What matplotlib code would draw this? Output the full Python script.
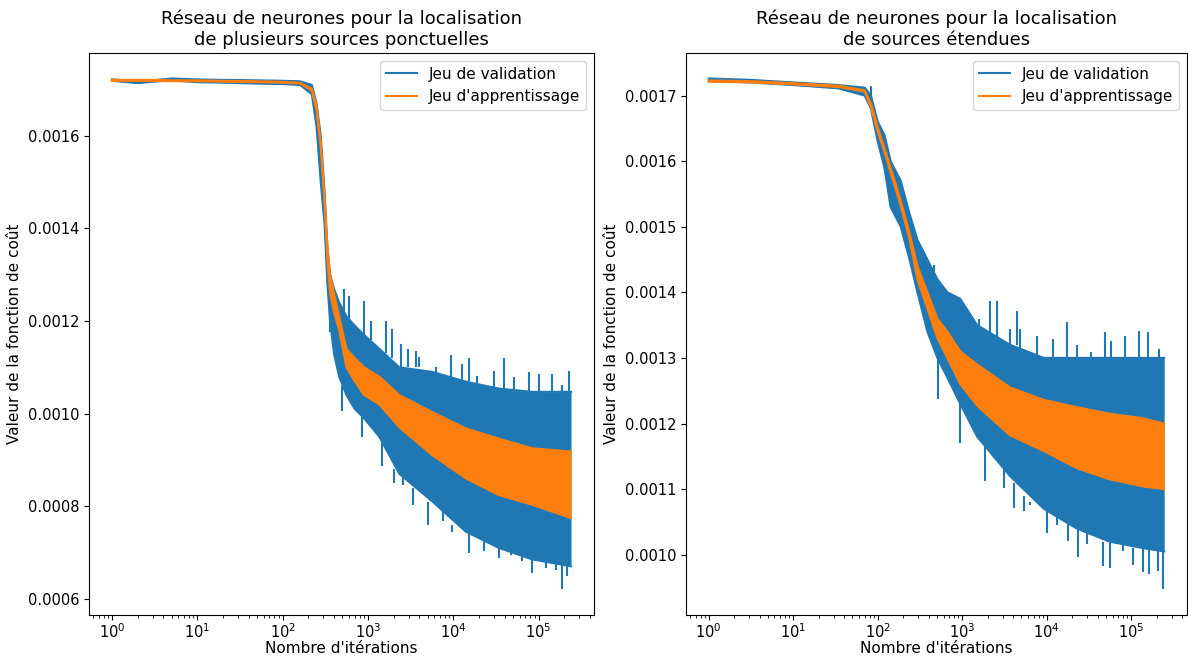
import numpy as np
import matplotlib
matplotlib.use("Agg")
import matplotlib.pyplot as plt

# ---- left panel: plusieurs sources ponctuelles ----
it_l = [1, 2, 3, 5, 10, 20, 50, 100, 160, 220, 250, 280, 310, 335, 360, 400,
        460, 560, 700, 900, 1360, 2330, 5700, 14000, 34000, 84000, 240000]
train_lo_l = [0.001719, 0.001719, 0.001719, 0.001718, 0.001718, 0.001717, 0.001716,
              0.001715, 0.001713, 0.001698, 0.001655, 0.001575, 0.001455, 0.00133,
              0.00126, 0.00122, 0.00118, 0.0011, 0.00107, 0.00104, 0.00102, 0.00097,
              0.00091, 0.00086, 0.000824, 0.000803, 0.000774]
train_hi_l = [0.001721, 0.001721, 0.001721, 0.00172, 0.00172, 0.001719, 0.001718,
              0.001717, 0.001715, 0.001702, 0.001665, 0.001585, 0.001465, 0.00136,
              0.0013, 0.00126, 0.00121, 0.00114, 0.00112, 0.0011, 0.00108, 0.00104,
              0.001003, 0.000968, 0.000946, 0.000925, 0.000918]
val_lo_l = [0.001719, 0.001714, 0.001717, 0.00172, 0.001716, 0.001715, 0.001713,
            0.001712, 0.00171, 0.00169, 0.00162, 0.0015, 0.00141, 0.00128, 0.0012,
            0.00113, 0.00108, 0.00104, 0.00101, 0.00099, 0.00095, 0.00087,
            0.00081, 0.000745, 0.00071, 0.000685, 0.00067]
val_hi_l = [0.001722, 0.001718, 0.00172, 0.001724, 0.001722, 0.001721, 0.00172,
            0.001719, 0.001718, 0.00171, 0.00167, 0.0016, 0.00148, 0.00136, 0.0013,
            0.00127, 0.00124, 0.00121, 0.00119, 0.00117, 0.00114, 0.0011,
            0.00109, 0.001069, 0.001054, 0.001047, 0.001047]
# upward spikes of the validation curve: iteration, base, tip
up_it_l = [530, 608, 910, 1090, 1630, 1940, 2440, 2920, 3650, 4000, 6260, 9380, 12800,
           15300, 19200, 30100, 39300, 51500, 77000, 101000, 144000, 189000, 230000]
up_lo_l = [0.00122, 0.0012, 0.00117, 0.00116, 0.00113, 0.00112, 0.0011, 0.0011, 0.0011,
           0.0011, 0.00109, 0.00108, 0.00107, 0.00107, 0.00106, 0.00105, 0.00105, 0.00105,
           0.00104, 0.00104, 0.00104, 0.00104, 0.00104]
up_hi_l = [0.00127, 0.001254, 0.001243, 0.0012, 0.0012, 0.001183, 0.00115, 0.00114,
           0.001136, 0.001122, 0.0011, 0.001127, 0.001107, 0.00112, 0.001082, 0.001093,
           0.00112, 0.001079, 0.00109, 0.001086, 0.001086, 0.001061, 0.001092]
# downward spikes: iteration, tip, base
dn_it_l = [355, 500, 860, 1480, 2040, 2550, 3340, 5000, 7480, 9790, 15300, 23000,
           34400, 47100, 64400, 84200, 121000, 158000, 189000, 216000]
dn_lo_l = [0.001176, 0.001006, 0.00095, 0.000886, 0.00085, 0.000846, 0.000803, 0.00076,
           0.000767, 0.000745, 0.000699, 0.000702, 0.000688, 0.000695, 0.000681,
           0.000656, 0.000666, 0.000663, 0.00062, 0.000649]
dn_hi_l = [0.00122, 0.00106, 0.001, 0.00094, 0.00088, 0.00087, 0.00084, 0.00081, 0.00079,
           0.00076, 0.00074, 0.00073, 0.00071, 0.00071, 0.0007, 0.00069, 0.00068,
           0.00068, 0.00068, 0.00068]

# ---- right panel: sources etendues ----
it_r = [1, 3, 10, 34, 70, 83, 100, 120, 142, 187, 238, 295, 387, 508, 666, 947,
        1500, 3670, 9220, 22500, 55100, 138000, 245000]
train_lo_r = [0.001721, 0.00172, 0.001717, 0.001713, 0.001706, 0.001682, 0.001645,
              0.001614, 0.001582, 0.001532, 0.00148, 0.00142, 0.001375, 0.00133,
              0.0013, 0.00126, 0.001227, 0.001182, 0.001158, 0.001132, 0.001115,
              0.001104, 0.0011]
train_hi_r = [0.001723, 0.001722, 0.001719, 0.001715, 0.001708, 0.001688, 0.001652,
              0.00162, 0.00159, 0.00154, 0.00149, 0.00144, 0.0014, 0.00136, 0.00134,
              0.00131, 0.00129, 0.001255, 0.001236, 0.001225, 0.001215, 0.001208, 0.0012]
val_lo_r = [0.001723, 0.00172, 0.001716, 0.001711, 0.0017, 0.00168, 0.00163, 0.00159,
            0.00153, 0.0015, 0.00145, 0.0014, 0.00134, 0.0013, 0.00127, 0.00123,
            0.00118, 0.00112, 0.00107, 0.00104, 0.00102, 0.00101, 0.001005]
val_hi_r = [0.001726, 0.001724, 0.00172, 0.001716, 0.001712, 0.0017, 0.00166,
            0.00164, 0.0016, 0.00157, 0.00152, 0.00148, 0.00145, 0.00142, 0.0014,
            0.00139, 0.00135, 0.00132, 0.0013, 0.0013, 0.0013, 0.0013, 0.0013]
up_it_r = [83, 467, 1570, 1800, 2150, 2580, 3700, 4440, 4850, 7620, 12000, 17200, 22500,
           33800, 48500, 58200, 83400, 125000, 157000, 215000]
up_lo_r = [0.00168, 0.00142, 0.00134, 0.00134, 0.00133, 0.00133, 0.00132, 0.00132,
           0.00131, 0.0013, 0.0013, 0.0013, 0.0013, 0.0013, 0.0013, 0.0013, 0.0013,
           0.0013, 0.0013, 0.0013]
up_hi_r = [0.001715, 0.001442, 0.001359, 0.001344, 0.001387, 0.001387, 0.001344,
           0.001372, 0.001344, 0.001334, 0.001329, 0.001354, 0.001319, 0.001309,
           0.001339, 0.001326, 0.001334, 0.001341, 0.001339, 0.001314]
dn_it_r = [510, 950, 1880, 2360, 3090, 4050, 5320, 6370, 10000, 13100, 18000, 23600,
           29600, 46500, 55600, 79800, 105000, 137000, 164000, 206000, 236000]
dn_lo_r = [0.001238, 0.00117, 0.001112, 0.001147, 0.001102, 0.001071, 0.001066,
           0.001076, 0.001033, 0.001046, 0.001021, 0.000996, 0.001016, 0.000983,
           0.00098, 0.001006, 0.000985, 0.000973, 0.00097, 0.000975, 0.000947]
dn_hi_r = [0.0013, 0.00123, 0.00117, 0.00116, 0.00113, 0.00111, 0.00109, 0.00108,
           0.00107, 0.00106, 0.00105, 0.00104, 0.00104, 0.00102, 0.00102, 0.00102,
           0.00101, 0.00101, 0.00101, 0.00101, 0.00101]

titles = ["Réseau de neurones pour la localisation\nde plusieurs sources ponctuelles",
          "Réseau de neurones pour la localisation\nde sources étendues"]

fig = plt.figure(figsize=(11.88, 6.56), dpi=100)
ax1 = fig.add_axes([0.0749, 0.0625, 0.4251, 0.8568])
ax2 = fig.add_axes([0.5774, 0.0625, 0.4217, 0.8568])

panels = [
    (ax1, it_l, val_lo_l, val_hi_l, train_lo_l, train_hi_l,
     up_it_l, up_lo_l, up_hi_l, dn_it_l, dn_lo_l, dn_hi_l),
    (ax2, it_r, val_lo_r, val_hi_r, train_lo_r, train_hi_r,
     up_it_r, up_lo_r, up_hi_r, dn_it_r, dn_lo_r, dn_hi_r),
]

for i, (ax, it, vlo, vhi, tlo, thi, uit, ulo, uhi, dit, dlo, dhi) in enumerate(panels):
    ax.fill_between(it, vlo, vhi, color="C0", lw=0)
    ax.plot(it, vlo, color="C0", lw=1.5)
    ax.plot(it, vhi, color="C0", lw=1.5, label="Jeu de validation")
    ax.vlines(uit, ulo, uhi, color="C0", lw=1.5)
    ax.vlines(dit, dlo, dhi, color="C0", lw=1.5)
    ax.fill_between(it, tlo, thi, color="C1", lw=0, zorder=3)
    ax.plot(it, tlo, color="C1", lw=1.5, zorder=3)
    ax.plot(it, thi, color="C1", lw=1.5, zorder=3, label="Jeu d'apprentissage")
    ax.set_xscale("log")
    ax.set_title(titles[i], fontsize=13)
    ax.set_xlabel("Nombre d'itérations", fontsize=11, labelpad=0)
    ax.set_ylabel("Valeur de la fonction de coût", fontsize=11)
    ax.tick_params(labelsize=10.5)
    ax.tick_params(axis="x", pad=2)
    ax.legend(loc="upper right", fontsize=11)

fig.savefig("out.png", dpi=100)
